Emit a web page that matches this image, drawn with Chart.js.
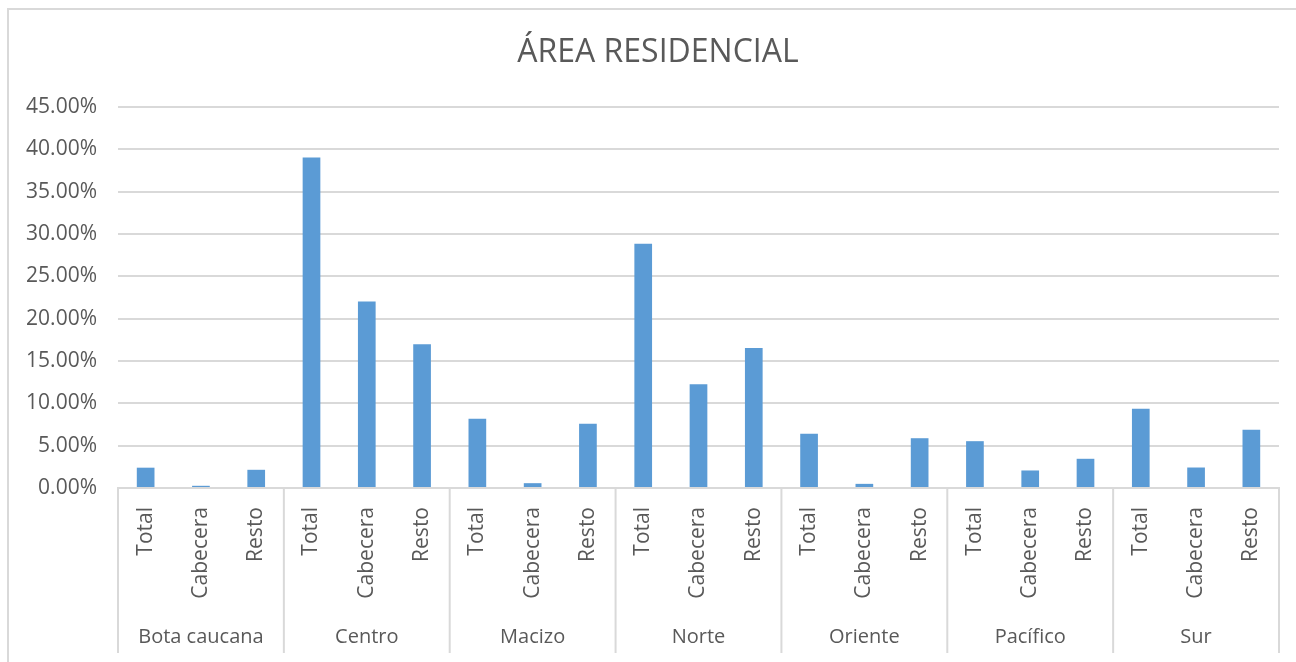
<!DOCTYPE html>
<html>
<head>
<meta charset="utf-8">
<script src="https://cdn.jsdelivr.net/npm/chart.js@4/dist/chart.umd.min.js"></script>
<style>
  body { margin: 0; background: #fff; overflow: hidden; }
  #marco { position: absolute; left: 7px; top: 8px; width: 1400px; height: 800px; border: 2px solid #d9d9d9; }
  #grafico { position: absolute; left: 0; top: 0; }
</style>
</head>
<body>
<div id="marco"></div>
<canvas id="grafico" width="1296" height="662"></canvas>
<script>
// regiones y subdivisiones del eje X
var regiones = ["Bota caucana", "Centro", "Macizo", "Norte", "Oriente", "Pacífico", "Sur"];
var zonas = ["Total", "Cabecera", "Resto"];

// porcentaje de área residencial por región (Total, Cabecera, Resto)
var botaCaucana = [0.0240, 0.0026, 0.0215];
var centro      = [0.3903, 0.2203, 0.1699];
var macizo      = [0.0817, 0.0057, 0.0758];
var norte       = [0.2884, 0.1226, 0.1655];
var oriente     = [0.0640, 0.0049, 0.0588];
var pacifico    = [0.0553, 0.0207, 0.0345];
var sur         = [0.0935, 0.0242, 0.0687];

// marcas del eje Y
var ticksY = [0, 0.05, 0.10, 0.15, 0.20, 0.25, 0.30, 0.35, 0.40, 0.45];

var titulo = "ÁREA RESIDENCIAL";

var etiquetas = [];
regiones.forEach(function () {
  zonas.forEach(function (z) { etiquetas.push(z); });
});
var valores = [].concat(botaCaucana, centro, macizo, norte, oriente, pacifico, sur);

var gris = "#595959";
var lineaGris = "#d9d9d9";
var fuente = "'Open Sans', sans-serif";

// título centrado sobre el marco (no sobre el área del gráfico)
var tituloMarco = {
  id: "tituloMarco",
  afterDraw: function (chart) {
    var ctx = chart.ctx;
    ctx.save();
    ctx.fillStyle = gris;
    ctx.font = "32px " + fuente;
    ctx.textAlign = "center";
    ctx.textBaseline = "middle";
    ctx.fillText(titulo, chart.width / 2 + 10, 53);
    ctx.restore();
  }
};

// dibuja los nombres de región y las líneas que separan cada grupo
var gruposEje = {
  id: "gruposEje",
  afterDraw: function (chart) {
    var x = chart.scales.x;
    var ctx = chart.ctx;
    var paso = x.getPixelForValue(1) - x.getPixelForValue(0);
    var n = zonas.length;
    ctx.save();
    ctx.strokeStyle = lineaGris;
    ctx.lineWidth = 2;
    for (var i = 0; i <= regiones.length; i++) {
      var px = x.getPixelForValue(i * n) - paso / 2;
      ctx.beginPath();
      ctx.moveTo(px, x.top);
      ctx.lineTo(px, x.top + 165);
      ctx.stroke();
    }
    ctx.fillStyle = gris;
    ctx.font = "20px " + fuente;
    ctx.textAlign = "center";
    ctx.textBaseline = "middle";
    regiones.forEach(function (r, i) {
      var centroX = (x.getPixelForValue(i * n) + x.getPixelForValue(i * n + n - 1)) / 2;
      ctx.fillText(r, centroX, x.top + 149);
    });
    ctx.restore();
  }
};

var ctx = document.getElementById("grafico").getContext("2d");
new Chart(ctx, {
  type: "bar",
  data: {
    labels: etiquetas,
    datasets: [{
      label: "Área residencial",
      data: valores,
      backgroundColor: "#5b9bd5",
      categoryPercentage: 1,
      barPercentage: 0.32
    }]
  },
  options: {
    responsive: false,
    animation: false,
    layout: { padding: { left: 0, right: 17, top: 107, bottom: 0 } },
    plugins: {
      legend: { display: false },
      tooltip: { enabled: false },
      title: { display: false }
    },
    scales: {
      x: {
        grid: { display: false },
        border: { display: true, color: lineaGris, width: 2 },
        ticks: {
          color: gris,
          font: { family: fuente, size: 21 },
          minRotation: 90,
          maxRotation: 90,
          padding: 11,
          autoSkip: false
        },
        afterFit: function (scale) { scale.height = 174; }
      },
      y: {
        min: 0,
        max: 0.45,
        grid: { color: lineaGris, lineWidth: 2, drawTicks: false },
        border: { display: false },
        afterBuildTicks: function (scale) {
          scale.ticks = ticksY.map(function (v) { return { value: v }; });
        },
        ticks: {
          color: gris,
          font: { family: fuente, size: 21 },
          padding: 21,
          callback: function (v) { return (v * 100).toFixed(2) + "%"; }
        },
        afterFit: function (scale) { scale.width = 118; }
      }
    }
  },
  plugins: [gruposEje, tituloMarco]
});
</script>
</body>
</html>
